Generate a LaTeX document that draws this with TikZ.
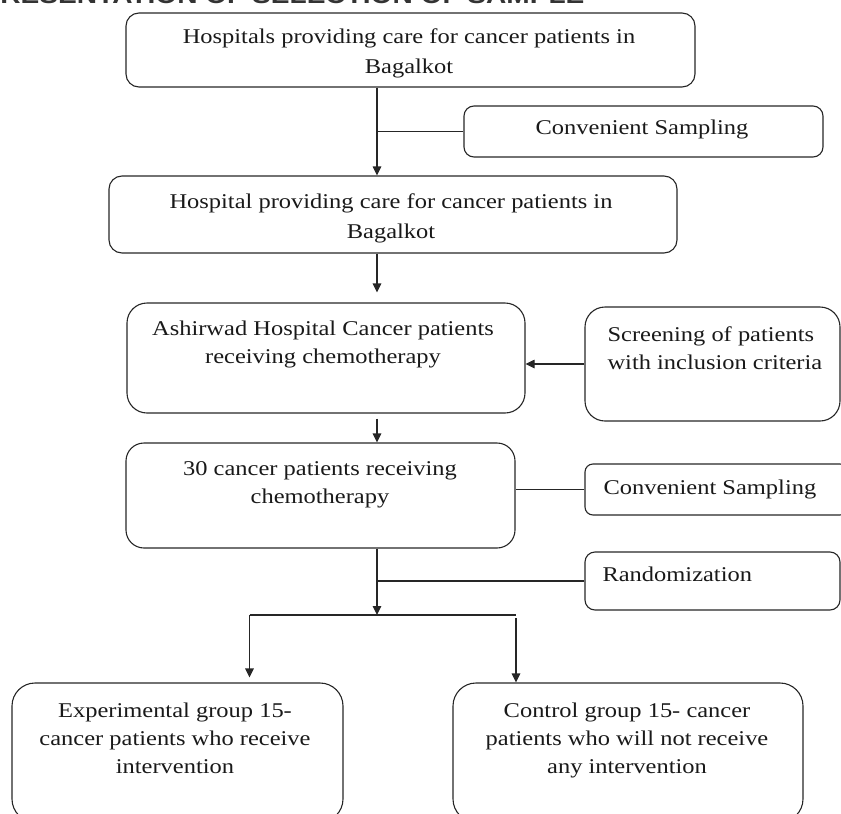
\documentclass[tikz,border=0pt]{standalone}
\usepackage{fontspec}
\setmainfont{Liberation Serif}[FakeStretch=1.165]
\newfontfamily\titlefont{Liberation Sans}[FakeStretch=1.17]
\usetikzlibrary{arrows.meta}
\begin{document}
\begin{tikzpicture}[x=1pt,y=-1pt,
  line width=1.1pt, draw=black!85,
  box/.style={draw, rounded corners=#1, inner sep=0pt, minimum width=10pt},
  box/.default=13pt,
  txt/.style={inner sep=0pt, text=black!90, font=\fontsize{21}{28}\selectfont},
  txtb/.style={inner sep=0pt, text=black!90, font=\fontsize{21}{30.5}\selectfont},
  arr/.style={-{Triangle[length=9pt,width=8.5pt]}},
  ]
\useasboundingbox (0,0) rectangle (841,814);
\clip (0,0) rectangle (841,814);

% title (clipped at top)
\node[anchor=base east, inner sep=0pt, text=black!80,
  font=\titlefont\bfseries\fontsize{24}{28}\selectfont] (title) at (585,3.5)
  {REPRESENTATION OF SELECTION OF SAMPLE};

% boxes
\node[box=13pt, minimum width=569pt, minimum height=74pt]  (b1)  at (410.5,50) {};
\node[box=10pt, minimum width=359pt, minimum height=51pt]  (cs1) at (643.5,131.5) {};
\node[box=13pt, minimum width=568pt, minimum height=77pt]  (b2)  at (393,214.5) {};
\node[box=20pt, minimum width=398pt, minimum height=110pt] (b3)  at (326,358) {};
\node[box=20pt, minimum width=255pt, minimum height=114pt] (scr) at (712.5,364) {};
\node[box=18pt, minimum width=389pt, minimum height=105pt] (b4)  at (320.5,495.5) {};
\node[box=8pt,  minimum width=263pt, minimum height=51pt]  (cs2) at (716.5,489.5) {};
\node[box=10pt, minimum width=255pt, minimum height=58pt]  (rnd) at (712.5,581) {};
\node[box=23pt, minimum width=331pt, minimum height=139pt] (ex)  at (177.5,752.5) {};
\node[box=23pt, minimum width=350pt, minimum height=139pt] (ct)  at (628,752.5) {};

% texts
\node[txtb, anchor=north, align=center] (t1) at (409,27.7)
  {Hospitals providing care for cancer patients in\\Bagalkot};
\node[txt, anchor=base] (tcs1) at (642,134) {Convenient Sampling};
\node[txtb, anchor=north, align=center] (t2) at (391,192.7)
  {Hospital providing care for cancer patients in\\Bagalkot};
\node[txt, anchor=north, align=center] (t3) at (323,320.7)
  {Ashirwad Hospital Cancer patients\\receiving chemotherapy};
\node[txt, anchor=north west, align=left] (tscr) at (607,325.7)
  {Screening of patients\\with inclusion criteria};
\node[txt, anchor=north, align=center] (t4) at (320,460.7)
  {30 cancer patients receiving\\chemotherapy};
\node[txt, anchor=base west] (tcs2) at (603,494) {Convenient Sampling};
\node[txt, anchor=base west] (trnd) at (602,581) {Randomization};
\node[txt, anchor=north, align=center] (tex) at (175,702.7)
  {Experimental group 15-\\cancer patients who receive\\intervention};
\node[txt, anchor=north, align=center] (tct) at (627,702.7)
  {Control group 15- cancer\\patients who will not receive\\any intervention};

% helper coordinates
\coordinate (ax) at (377,0);
\coordinate (split) at (377,615);
\coordinate (sl) at (249.5,615);
\coordinate (sr) at (516,615);
\coordinate (sr2) at (516,618);

% connectors
\draw[arr] (b1.south -| ax) -- (b2.north -| ax);
\draw (cs1.west) -- (cs1.west -| ax);
\draw[arr, shorten >=10pt] (b2.south -| ax) -- (b3.north -| ax);
\draw[arr] (scr.west) -- (scr.west -| b3.east);
\draw[arr, shorten <=5pt] (b3.south -| ax) -- (b4.north -| ax);
\draw (cs2.west) -- (cs2.west -| b4.east);
\draw[arr] (b4.south -| ax) -- (split);
\draw (rnd.west) -- (rnd.west -| ax);
\draw (sl) -- (sr);
\draw[arr, shorten >=5pt] (sl) -- (ex.north -| sl);
\draw[arr] (sr2) -- (ct.north -| sr2);
\end{tikzpicture}
\end{document}
